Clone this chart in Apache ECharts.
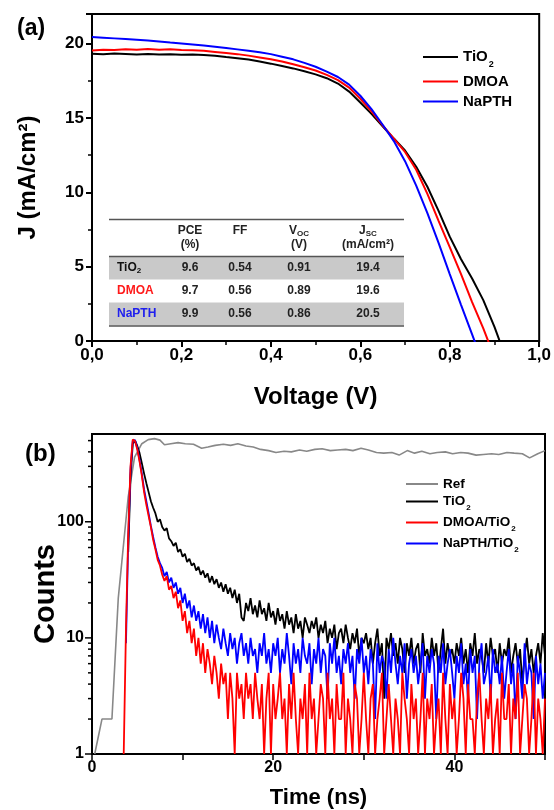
<!DOCTYPE html>
<html>
<head>
<meta charset="utf-8">
<script src="https://cdn.jsdelivr.net/npm/echarts@6/dist/echarts.min.js"></script>
<style>
  html, body { margin: 0; padding: 0; background: #fff; }
  #main { width: 554px; height: 810px; }
</style>
</head>
<body>
<div id="main"></div>
<script>
// ---- (a) J-V curves ----
var voltage = [0, 0.025, 0.05, 0.075, 0.1, 0.125, 0.15, 0.175, 0.2, 0.225,
  0.25, 0.275, 0.3, 0.325, 0.35, 0.375, 0.4, 0.425, 0.45, 0.475,
  0.5, 0.525, 0.55, 0.575, 0.6, 0.625, 0.65, 0.675, 0.7, 0.725,
  0.75, 0.775, 0.8, 0.825, 0.85, 0.875, 0.9, 0.925];
var jTiO2 = [19.32, 19.30, 19.34, 19.31, 19.28, 19.31, 19.27, 19.30, 19.26, 19.28,
  19.24, 19.19, 19.10, 19.03, 18.94, 18.80, 18.66, 18.50, 18.34, 18.15,
  17.94, 17.68, 17.32, 16.78, 16.05, 15.28, 14.45, 13.62, 12.82, 11.72,
  10.38, 8.75, 7.02, 5.52, 4.20, 2.75, 0.95, -1.10];
var jDMOA = [19.55, 19.60, 19.57, 19.63, 19.60, 19.64, 19.60, 19.63, 19.58, 19.56,
  19.52, 19.45, 19.38, 19.30, 19.20, 19.08, 18.95, 18.80, 18.62, 18.42,
  18.20, 17.90, 17.55, 17.05, 16.30, 15.45, 14.50, 13.62, 12.72, 11.52,
  9.90, 8.08, 6.32, 4.52, 2.62, 0.85, -1.10, null];
var jNaPTH = [20.45, 20.41, 20.36, 20.31, 20.26, 20.21, 20.15, 20.08, 20.02, 19.95,
  19.88, 19.80, 19.72, 19.62, 19.52, 19.42, 19.30, 19.13, 18.95, 18.71,
  18.45, 18.12, 17.76, 17.25, 16.50, 15.60, 14.55, 13.45, 12.10, 10.45,
  8.60, 6.60, 4.50, 2.45, 0.45, -1.60, null, null];

// table in panel (a)
var tableRows = ['TiO2', 'DMOA', 'NaPTH'];
var pce = ['9.6', '9.7', '9.9'];
var ff = ['0.54', '0.56', '0.56'];
var voc = ['0.91', '0.89', '0.86'];
var jsc = ['19.4', '19.6', '20.5'];

// ---- (b) PL decay ----
var refTime = [0.3, 1.1, 2.2, 2.9, 4.0, 4.7, 5.5, 6.2, 6.9, 7.5, 8.0, 8.7, 9.5, 10.3, 11.2,
  12.1, 12.8, 13.6, 14.5, 15.3, 16.1, 17.0, 17.8, 18.6, 19.5, 20.3, 21.2, 22.0, 22.9, 23.7,
  24.6, 25.4, 26.3, 27.1, 28.0, 28.8, 29.7, 30.5, 31.4, 32.2, 33.1, 33.9, 34.8, 35.6, 36.4,
  37.3, 38.1, 39.0, 39.8, 40.7, 41.5, 42.4, 43.2, 44.1, 44.9, 45.8, 46.6, 47.5, 48.3, 49.2, 50];
var refCounts = [1, 2, 2, 22, 165, 360, 470, 510, 520, 505, 460, 470, 480, 470, 465,
  430, 440, 455, 465, 455, 470, 450, 440, 420, 410, 395, 405, 400, 415, 405,
  420, 425, 410, 415, 420, 410, 430, 415, 395, 390, 395, 375, 410, 390, 405,
  385, 395, 400, 385, 395, 390, 375, 380, 385, 380, 395, 390, 385, 355, 385, 410];

// counts per 0.25 ns channel, first channel at 3.5 ns
var T0 = 3.5, DT = 0.25;
var tiO2Counts = [null, null, 55, 240, 470, 500, 450, 390, 320, 260,
  215, 180, 150, 132, 118, 100, 105, 90, 84, 88,
  72, 68, 62, 66, 55, 58, 50, 53, 45, 48,
  42, 44, 38, 41, 35, 38, 33, 36, 30, 34,
  29, 32, 27, 30, 25, 29, 24, 27, 22, 26,
  20, 24, 15, 14, 20, 17, 22, 16, 19, 15,
  21, 16, 18, 14, 20, 15, 17,
  13, 18, 14, 16, 12, 17, 13, 15, 11, 16, 12, 14, 10, 15, 13, 11, 14, 12, 15, 10,
  13, 11, 14, 9, 12, 10, 13, 8, 11, 12, 9, 13, 10, 8, 11, 9, 12, 7, 10, 9,
  11, 8, 10, 6, 9, 12, 7, 9, 3, 10, 8, 11, 7, 9, 6, 10, 8, 5, 9, 7,
  10, 6, 8, 9, 5, 11, 7, 8, 6, 10, 7, 9, 5, 8, 12, 6, 9, 7, 8, 6,
  9, 7, 10, 6, 8, 5, 9, 7, 11, 6, 8, 7, 5, 9, 6, 10, 7, 8, 5, 9,
  6, 8, 7, 10, 5, 7, 9, 6, 8, 4, 7, 10, 6, 8, 5, 7, 9, 6, 11, 7];
var dmoaCounts = [1, 12, 80, 300, 510, 495, 420, 330, 250, 180,
  140, 112, 90, 70, 58, 47, 42, 35, 31, 34,
  26, 28, 22, 25, 18, 21, 14, 17, 11, 14,
  9, 12, 7, 10, 6, 9, 5, 8, 6, 4,
  7, 5, 3, 6, 4, 5, 2, 5, 3, 1,
  5, 3, 4, 2, 5, 3, 4, 2, 5, 3,
  2, 4, 1, 3, 5, 1, 4, 2, 3, 5, 2,
  3, 1, 4, 2, 5, 2, 1, 3, 2, 4, 1, 5, 2, 3, 1, 2, 4, 3, 1, 5,
  2, 3, 1, 4, 2, 2, 5, 1, 3, 2, 1, 4, 3, 1, 2, 5, 2, 1, 3, 4,
  1, 2, 3, 5, 1, 2, 4, 2, 1, 3, 2, 1, 5, 3, 2, 1, 4, 2, 3, 1,
  2, 5, 1, 3, 2, 4, 1, 2, 3, 1, 5, 2, 1, 4, 2, 3, 1, 2, 5, 3,
  1, 4, 2, 2, 1, 3, 5, 2, 1, 3, 2, 4, 1, 2, 3, 1, 5, 2, 2, 4,
  1, 3, 2, 5, 1, 2, 4, 3, 1, 2, 5, 1, 3, 2, 1, 3];
var naPTHCounts = [null, 9, 70, 280, 500, 505, 430, 340, 260, 190,
  150, 118, 92, 74, 60, 50, 44, 40, 34, 37,
  30, 33, 27, 30, 24, 27, 20, 24, 18, 21,
  15, 19, 14, 17, 12, 16, 11, 15, 10, 14,
  9, 13, 10, 8, 12, 9, 7, 11, 8, 10,
  6, 9, 11, 7, 9, 6, 10, 7, 8, 5,
  9, 7, 11, 6, 8, 5, 9,
  7, 10, 5, 8, 6, 11, 7, 4, 9, 6, 8, 5, 10, 7, 6, 9, 4, 8, 6, 10,
  5, 8, 7, 3, 9, 6, 10, 5, 7, 4, 8, 6, 9, 5, 7, 3, 8, 6, 10, 5,
  7, 4, 8, 6, 2, 9, 5, 7, 6, 3, 8, 5, 10, 6, 4, 7, 5, 9, 3, 6,
  8, 5, 7, 4, 6, 9, 3, 7, 5, 8, 6, 2, 7, 5, 9, 4, 6, 8, 5, 3,
  7, 5, 9, 4, 6, 3, 8, 5, 7, 2, 6, 9, 4, 5, 7, 3, 8, 5, 6, 4,
  7, 3, 5, 8, 4, 6, 2, 7, 5, 3, 9, 4, 6, 5, 2, 7, 4, 6, 3, 5];

var countTicksMajor = [1, 10, 100];
var countTicksMinor = [2, 3, 4, 5, 6, 7, 8, 9, 20, 30, 40, 50, 60, 70, 80, 90, 200, 300, 400, 500];

var FONT = '"Liberation Sans", Arial, sans-serif';

function pairs(xs, ys) {
  return xs.map(function (x, i) { return [x, ys[i]]; });
}
var timeGrid = tiO2Counts.map(function (c, i) { return T0 + i * DT; });

function legendRich(size, subSize, pad) {
  return {
    m: { fontSize: size, fontWeight: 'bold', fontFamily: FONT, color: '#000', lineHeight: size },
    s: { fontSize: subSize, fontWeight: 'bold', fontFamily: FONT, color: '#000', lineHeight: subSize + 1, padding: [pad, 0, 0, 1] }
  };
}
function subName(name) {
  var k = name.indexOf('TiO2');
  if (k < 0) return '{m|' + name + '}';
  return '{m|' + name.slice(0, k) + 'TiO}{s|2}';
}

// table graphics
var tableLeft = 109, tableRight = 404;
var colX = [190, 240, 299, 368];
var rowY = [268, 291, 314];
var rowColors = ['#111', '#ff1a1a', '#2020ee'];
var tRich = {
  m: { fontSize: 12, fontWeight: 'bold', fontFamily: FONT, fill: '#222' },
  s: { fontSize: 8, fontWeight: 'bold', fontFamily: FONT, fill: '#222', padding: [5, 0, 0, 0] }
};
var graphics = [
  { type: 'rect', shape: { x: tableLeft, y: 257, width: tableRight - tableLeft, height: 22.5 }, style: { fill: '#c9c9c9' } },
  { type: 'rect', shape: { x: tableLeft, y: 302.5, width: tableRight - tableLeft, height: 23 }, style: { fill: '#c9c9c9' } }
];
[219.5, 256.5, 326].forEach(function (y) {
  graphics.push({ type: 'line', shape: { x1: tableLeft, y1: y, x2: tableRight, y2: y }, style: { stroke: '#555', lineWidth: 1.5 } });
});
var headTop = ['{m|PCE}', '{m|FF}', '{m|V}{s|OC}', '{m|J}{s|SC}'];
var headBottom = ['(%)', '', '(V)', '(mA/cm²)'];
colX.forEach(function (x, c) {
  graphics.push({ type: 'text', style: { x: x, y: 231, text: headTop[c], rich: tRich, align: 'center', verticalAlign: 'middle' } });
  if (headBottom[c]) {
    graphics.push({ type: 'text', style: { x: x, y: 245, text: headBottom[c], font: 'bold 12px ' + FONT, fill: '#222', align: 'center', verticalAlign: 'middle' } });
  }
});
tableRows.forEach(function (name, r) {
  var rich = {
    m: { fontSize: 12, fontWeight: 'bold', fontFamily: FONT, fill: rowColors[r] },
    s: { fontSize: 8, fontWeight: 'bold', fontFamily: FONT, fill: rowColors[r], padding: [6, 0, 0, 0] }
  };
  graphics.push({ type: 'text', style: { x: 117, y: rowY[r], text: subName(name), rich: rich, align: 'left', verticalAlign: 'middle' } });
  [pce, ff, voc, jsc].forEach(function (col, c) {
    graphics.push({ type: 'text', style: { x: colX[c], y: rowY[r], text: col[r], font: 'bold 12px ' + FONT, fill: '#222', align: 'center', verticalAlign: 'middle' } });
  });
});
graphics.push({ type: 'text', style: { x: 17, y: 17, text: '(a)', font: 'bold 23px ' + FONT, fill: '#000' } });
graphics.push({ type: 'text', style: { x: 25, y: 442, text: '(b)', font: 'bold 24px ' + FONT, fill: '#000' } });

function tickSeries(values, len) {
  return {
    type: 'custom', xAxisIndex: 1, yAxisIndex: 1, silent: true, clip: false,
    data: values.map(function (v) { return [0, v]; }),
    renderItem: function (params, api) {
      var p = api.coord([0, api.value(1)]);
      return { type: 'line', shape: { x1: p[0] - len, y1: p[1], x2: p[0], y2: p[1] }, style: { stroke: '#000', lineWidth: 1.5 } };
    }
  };
}

var axisText = { fontFamily: FONT, fontWeight: 'bold', color: '#000' };

var chart = echarts.init(document.getElementById('main'));
chart.setOption({
  animation: false,
  backgroundColor: '#fff',
  grid: [
    { left: 92, right: 13, top: 14, bottom: 469, show: true, borderColor: '#000', borderWidth: 2 },
    { left: 92, right: 9, top: 434, bottom: 56, show: true, borderColor: '#000', borderWidth: 2 }
  ],
  legend: [
    {
      data: ['TiO2', 'DMOA', 'NaPTH'], orient: 'vertical', left: 423, top: 45, padding: 0,
      icon: 'rect', itemWidth: 35, itemHeight: 2, itemGap: 5, selectedMode: false,
      formatter: subName, textStyle: { rich: legendRich(15, 9, 15) }
    },
    {
      data: ['Ref', 'TiO2', 'DMOA/TiO2', 'NaPTH/TiO2'], orient: 'vertical', left: 406, top: 477, padding: 0,
      icon: 'rect', itemWidth: 32, itemHeight: 2, itemGap: 0, selectedMode: false,
      formatter: subName, textStyle: { rich: legendRich(13.5, 8, 13) }
    }
  ],
  xAxis: [
    {
      gridIndex: 0, type: 'value', min: 0, max: 1, interval: 0.2,
      name: 'Voltage (V)', nameLocation: 'middle', nameGap: 44,
      nameTextStyle: Object.assign({ fontSize: 24 }, axisText),
      axisLine: { lineStyle: { color: '#000', width: 2 } },
      axisTick: { length: 6, lineStyle: { width: 2 } },
      minorTick: { show: true, splitNumber: 2, length: 4, lineStyle: { color: '#000', width: 1.5 } },
      splitLine: { show: false },
      axisLabel: Object.assign({ fontSize: 17, margin: 6, formatter: function (v) { return v.toFixed(1).replace('.', ','); } }, axisText)
    },
    {
      gridIndex: 1, type: 'value', min: 0, max: 50, interval: 10,
      name: 'Time (ns)', nameLocation: 'middle', nameGap: 33,
      nameTextStyle: Object.assign({ fontSize: 22 }, axisText),
      axisLine: { lineStyle: { color: '#000', width: 2 } },
      axisTick: { length: 6, lineStyle: { width: 1.5 } },
      splitLine: { show: false },
      axisLabel: Object.assign({ fontSize: 16, margin: 6, formatter: function (v) { return v % 20 === 0 && v < 50 ? String(v) : ''; } }, axisText)
    }
  ],
  yAxis: [
    {
      gridIndex: 0, type: 'value', min: 0, max: 22, interval: 5,
      name: 'J (mA/cm²)', nameLocation: 'middle', nameGap: 52,
      nameTextStyle: Object.assign({ fontSize: 24 }, axisText),
      axisLine: { show: true, lineStyle: { color: '#000', width: 2 } },
      axisTick: { show: true, length: 6, lineStyle: { width: 2 } },
      minorTick: { show: true, splitNumber: 2, length: 4, lineStyle: { color: '#000', width: 1.5 } },
      splitLine: { show: false },
      axisLabel: Object.assign({ fontSize: 17, margin: 8, showMaxLabel: false }, axisText)
    },
    {
      gridIndex: 1, type: 'log', logBase: 10, min: 1, max: 570,
      name: 'Counts', nameLocation: 'middle', nameGap: 32, nameMoveOverlap: false,
      nameTextStyle: Object.assign({ fontSize: 29 }, axisText),
      axisLine: { show: true, lineStyle: { color: '#000', width: 2 } },
      axisTick: { show: false },
      splitLine: { show: false },
      axisLabel: Object.assign({
        fontSize: 16, margin: 8,
        formatter: function (v) {
          var e = Math.log10(v);
          return Math.abs(e - Math.round(e)) < 1e-6 && v < 500 ? String(Math.round(v)) : '';
        }
      }, axisText)
    }
  ],
  graphic: { elements: graphics },
  series: [
    { name: 'TiO2', type: 'line', xAxisIndex: 0, yAxisIndex: 0, data: pairs(voltage, jTiO2), symbol: 'none', clip: true,
      lineStyle: { color: '#000', width: 2 }, itemStyle: { color: '#000' } },
    { name: 'DMOA', type: 'line', xAxisIndex: 0, yAxisIndex: 0, data: pairs(voltage, jDMOA), symbol: 'none', clip: true,
      lineStyle: { color: '#ff0000', width: 2 }, itemStyle: { color: '#ff0000' } },
    { name: 'NaPTH', type: 'line', xAxisIndex: 0, yAxisIndex: 0, data: pairs(voltage, jNaPTH), symbol: 'none', clip: true,
      lineStyle: { color: '#0000ff', width: 2 }, itemStyle: { color: '#0000ff' } },
    { name: 'Ref', type: 'line', xAxisIndex: 1, yAxisIndex: 1, data: pairs(refTime, refCounts), symbol: 'none', clip: true,
      lineStyle: { color: '#888', width: 1.6 }, itemStyle: { color: '#888' } },
    { name: 'TiO2', type: 'line', xAxisIndex: 1, yAxisIndex: 1, data: pairs(timeGrid, tiO2Counts), symbol: 'none', clip: true,
      lineStyle: { color: '#000', width: 1.8 }, itemStyle: { color: '#000' } },
    { name: 'NaPTH/TiO2', type: 'line', xAxisIndex: 1, yAxisIndex: 1, data: pairs(timeGrid, naPTHCounts), symbol: 'none', clip: true,
      lineStyle: { color: '#0000ff', width: 1.8 }, itemStyle: { color: '#0000ff' } },
    { name: 'DMOA/TiO2', type: 'line', xAxisIndex: 1, yAxisIndex: 1, data: pairs(timeGrid, dmoaCounts), symbol: 'none', clip: true,
      lineStyle: { color: '#ff0000', width: 1.8 }, itemStyle: { color: '#ff0000' } },
    tickSeries(countTicksMajor, 7),
    tickSeries(countTicksMinor, 4)
  ]
});
</script>
</body>
</html>
